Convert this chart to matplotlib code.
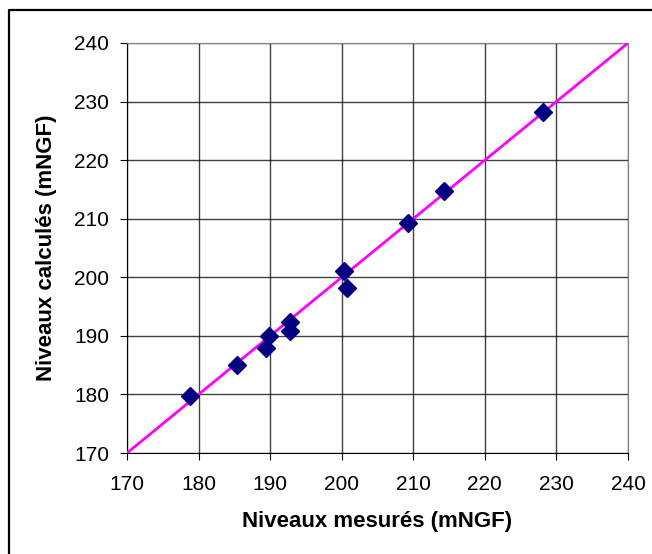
import matplotlib
matplotlib.use('Agg')
import matplotlib.pyplot as plt
from matplotlib.lines import Line2D

plt.rcParams['font.family'] = ['Liberation Sans', 'DejaVu Sans']

# niveaux mesures / calcules (mNGF)
mesures = [178.8, 185.4, 189.4, 189.9, 192.8, 192.8, 200.3, 200.7, 209.2, 214.3, 228.1]
calcules = [179.8, 185.1, 187.9, 190.0, 192.3, 190.8, 201.1, 198.2, 209.3, 214.8, 228.3]
droite = [170, 240]
ticks = list(range(170, 241, 10))

fig = plt.figure(figsize=(6.52, 5.54), dpi=100)
ax = fig.add_axes([0.1948, 0.1823, 0.7684, 0.7401])

ax.plot(droite, droite, color='#FF00FF', lw=2, zorder=3)
ax.plot(mesures, calcules, linestyle='none', marker='D', markersize=9,
        color='#000080', zorder=4)

ax.set_xlim(170, 240)
ax.set_ylim(170, 240)
ax.set_xticks(ticks)
ax.set_yticks(ticks)
ax.grid(True, color='#000000', lw=1, alpha=0.75)
ax.set_axisbelow(True)
ax.tick_params(direction='out', length=5, labelsize=15)
ax.tick_params(axis='x', pad=11)
ax.tick_params(axis='y', pad=8)
for s in ['top', 'right']:
    ax.spines[s].set_color('#808080')
for s in ['left', 'bottom']:
    ax.spines[s].set_color('#000000')

ax.set_xlabel('Niveaux mesurés (mNGF)', fontsize=16, fontweight='bold', labelpad=12)
ax.set_ylabel('Niveaux calculés (mNGF)', fontsize=16, fontweight='bold', labelpad=12)

# cadre du graphique (coupe a droite et en bas)
fig.lines.append(Line2D([9/652, 9/652, 1.0], [0.0, 1 - 10/554, 1 - 10/554],
                        transform=fig.transFigure, color='black', lw=1.6))

fig.savefig('out.png', dpi=100)
